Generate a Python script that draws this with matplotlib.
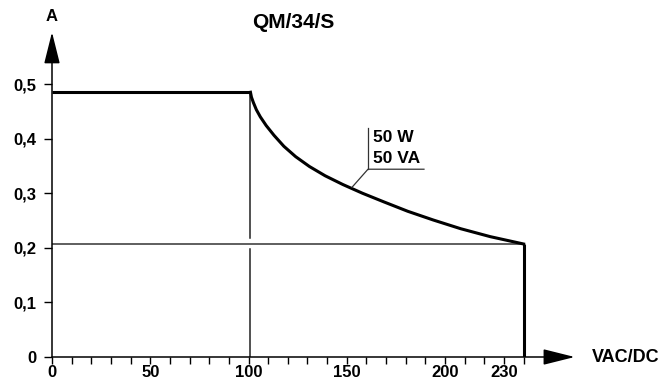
import matplotlib
matplotlib.use('Agg')
from matplotlib import pyplot as plt

# values
flat_x = [0, 101]
flat_y = [0.485, 0.485]
curve_x = [101, 101.5, 102.5, 104, 106, 109, 113, 118, 124, 131, 139, 148, 158, 169, 181, 194,
           208, 223, 240]
curve_y = [0.485, 0.476, 0.466, 0.453, 0.440, 0.424, 0.406, 0.386, 0.367, 0.349, 0.332, 0.316,
           0.300, 0.284, 0.267, 0.251, 0.235, 0.2205, 0.207]
v_break = 101      # voltage where the power limit starts
v_max = 240        # end of range
i_min = 0.207      # current at v_max
x_ticks = list(range(0, 250, 10))
x_labels = {0: '0', 50: '50', 100: '100', 150: '150', 200: '200', 230: '230'}
y_ticks = [0, 0.1, 0.2, 0.3, 0.4, 0.5]
y_labels = ['0', '0,1', '0,2', '0,3', '0,4', '0,5']
power_label = ['50 W', '50 VA']

plt.rcParams['font.family'] = ['Liberation Sans', 'DejaVu Sans']
plt.rcParams['font.weight'] = 'bold'

fig = plt.figure(figsize=(6.7, 3.83), dpi=100)
ax = fig.add_axes([52 / 670, 26 / 383, 618 / 670, 357 / 383])
ax.set_xlim(0, 314.5)
ax.set_ylim(0, 0.654)
for s in ax.spines.values():
    s.set_visible(False)

ax.set_xticks(x_ticks)
ax.set_xticklabels([x_labels.get(t, '') for t in x_ticks])
ax.set_yticks(y_ticks)
ax.set_yticklabels(y_labels)
ax.tick_params(axis='x', length=5, width=1.0, pad=1, labelsize=12)
ax.tick_params(axis='y', length=6, width=1.0, pad=5, labelsize=12)
for lab in ax.get_xticklabels() + ax.get_yticklabels():
    lab.set_fontweight('bold')

# axes with arrows
arrow = dict(arrowstyle='-|>,head_length=1.4,head_width=0.35', mutation_scale=14,
             lw=1.1, color='k', shrinkA=0, shrinkB=0)
ax.annotate('', xy=(266, 0), xytext=(0, 0), arrowprops=arrow, annotation_clip=False)
ax.annotate('', xy=(0, 0.595), xytext=(0, 0), arrowprops=arrow, annotation_clip=False)

# thin guide lines
ax.plot([0, v_max], [i_min, i_min], color='#333333', lw=1.1)
ax.plot([v_break, v_break], [0, 0.198], color='#222222', lw=1.1)
ax.plot([v_break, v_break], [0.218, flat_y[-1]], color='#222222', lw=1.1)

# limit curve
ax.plot(flat_x, flat_y, color='k', lw=2.2, solid_capstyle='butt')
ax.plot(curve_x, curve_y, color='k', lw=2.2, solid_joinstyle='round')
ax.plot([v_max, v_max], [i_min, 0], color='k', lw=2.2, solid_capstyle='butt')

# leader for the power label
ax.plot([152.7, 160.8, 189.3], [0.311, 0.344, 0.344], color='#333333', lw=0.9)
ax.plot([160.8, 160.8], [0.344, 0.419], color='#333333', lw=0.9)
ax.text(163.4, 0.403, power_label[0], fontsize=12.5, fontweight='bold', va='center', ha='left')
ax.text(163.4, 0.363, power_label[1], fontsize=12.5, fontweight='bold', va='center', ha='left')

ax.text(123, 0.612, 'QM/34/S', fontsize=15, fontweight='bold', ha='center', va='center')
ax.text(0, 0.623, 'A', fontsize=12, fontweight='bold', ha='center', va='center')
ax.text(274.8, 0.0, 'VAC/DC', fontsize=13, fontweight='bold', ha='left', va='center')

plt.savefig('out.png', dpi=100)
